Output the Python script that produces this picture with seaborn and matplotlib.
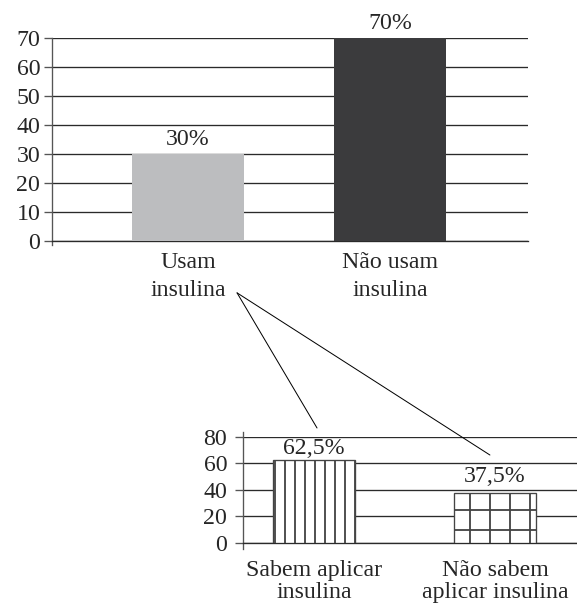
import matplotlib
matplotlib.use("Agg")
import matplotlib.pyplot as plt
import seaborn as sns
import pandas as pd
from matplotlib.patches import ConnectionPatch

# ---- data ----
top_categories = ["Usam\ninsulina", "Não usam\ninsulina"]
top_values = [30, 70]
top_labels = ["30%", "70%"]
top_ticks = [0, 10, 20, 30, 40, 50, 60, 70]

bottom_categories = ["Sabem aplicar\ninsulina", "Não sabem\naplicar insulina"]
bottom_values = [62.5, 37.5]
bottom_labels = ["62,5%", "37,5%"]
bottom_ticks = [0, 20, 40, 60, 80]

DPI = 120
sns.set_theme(style="white")
plt.rcParams["font.family"] = ["Liberation Serif", "DejaVu Serif"]
plt.rcParams["hatch.linewidth"] = 1.1
plt.rcParams["hatch.color"] = "black"

fig = plt.figure(figsize=(577 / DPI, 605 / DPI), dpi=DPI)
LINE = "#2a2a2a"
FS = 14.3

# ---- top chart ----
ax1 = fig.add_axes([0.0901, 0.6017, 0.825, 0.3355])
df1 = pd.DataFrame({"cat": top_categories, "val": top_values})
sns.barplot(data=df1, x="cat", y="val", hue="cat",
            palette=["#bcbdbf", "#3b3b3d"], width=0.554, legend=False,
            ax=ax1, zorder=3, linewidth=0)
ax1.set_xlim(-0.673, 1.683)
ax1.set_ylim(0, 70)
ax1.set_yticks(top_ticks)
ax1.yaxis.grid(True, color=LINE, linewidth=0.8, zorder=0)
ax1.set_axisbelow(True)
for s in ["top", "right"]:
    ax1.spines[s].set_visible(False)
ax1.spines["bottom"].set_color(LINE)
ax1.spines["bottom"].set_linewidth(0.8)
ax1.spines["left"].set_color("#555555")
ax1.spines["left"].set_linewidth(0.8)
ax1.spines["left"].set_bounds(-1.4, 70)
ax1.tick_params(axis="y", left=True, length=5, width=0.8, color="#555555",
                pad=2, labelsize=FS)
ax1.tick_params(axis="x", bottom=False, pad=0.5, labelsize=FS)
for t in ax1.get_xticklabels():
    t.set_linespacing(1.45)
ax1.set_xlabel("")
ax1.set_ylabel("")
for c, lab in zip(ax1.containers, [[l] for l in top_labels]):
    ax1.bar_label(c, labels=lab, padding=2.5, fontsize=FS, clip_on=False)

# ---- bottom chart ----
ax2 = fig.add_axes([0.4211, 0.1025, 0.5789, 0.1752])
df2 = pd.DataFrame({"cat": bottom_categories, "val": bottom_values})
sns.barplot(data=df2, x="cat", y="val", hue="cat",
            palette=["white", "white"], width=0.45, legend=False,
            ax=ax2, zorder=3, edgecolor="#444444", linewidth=0.8)
for p, h in zip(ax2.patches, ["||", "+"]):
    p.set_hatch(h)
ax2.set_xlim(-0.392, 1.453)
ax2.set_ylim(0, 80)
ax2.set_yticks(bottom_ticks)
ax2.yaxis.grid(True, color=LINE, linewidth=0.8, zorder=0)
ax2.set_axisbelow(True)
for s in ["top", "right"]:
    ax2.spines[s].set_visible(False)
ax2.spines["bottom"].set_color(LINE)
ax2.spines["bottom"].set_linewidth(0.8)
ax2.spines["left"].set_color("#555555")
ax2.spines["left"].set_linewidth(0.8)
ax2.spines["left"].set_bounds(-4.5, 83.8)
ax2.tick_params(axis="y", left=True, length=5, width=0.8, color="#555555",
                pad=4.5, labelsize=FS)
ax2.tick_params(axis="x", bottom=False, pad=4, labelsize=FS)
for t in ax2.get_xticklabels():
    t.set_linespacing(1.1)
ax2.set_xlabel("")
ax2.set_ylabel("")
for c, lab, pad in zip(ax2.containers, [[l] for l in bottom_labels], [0.5, 4]):
    ax2.bar_label(c, labels=lab, padding=pad, fontsize=FS, clip_on=False)

# ---- connector lines ----
for xy_b in [(0.017, 86.8), (0.972, 66.4)]:
    con = ConnectionPatch(xyA=(0.243, -17.9), coordsA=ax1.transData,
                          xyB=xy_b, coordsB=ax2.transData,
                          color="black", linewidth=0.6)
    fig.add_artist(con)

fig.savefig("out.png", dpi=DPI)
